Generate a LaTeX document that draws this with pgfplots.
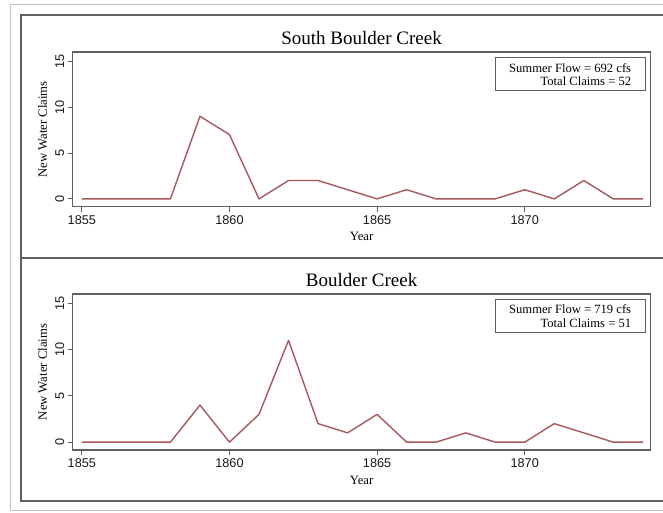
\documentclass[border=0pt]{standalone}
\usepackage{fontspec}
\setmainfont{Liberation Serif}
\setsansfont{Liberation Sans}
\usepackage{pgfplots}
\pgfplotsset{compat=1.18}
\definecolor{linec}{RGB}{168,88,92}
\definecolor{framec}{RGB}{95,95,95}
\definecolor{outerc}{RGB}{195,195,195}

\pgfplotsset{
  panel/.style={
    scale only axis, width=577.8pt,
    xmin=1854.69, xmax=1874.26, ymin=-0.85, ymax=16,
    xtick={1855,1860,1865,1870}, ytick={0,5,10,15},
    tick pos=left, tick align=outside, major tick length=5pt,
    axis line style={framec, line width=1.3pt},
    tick style={framec, line width=0.9pt},
    ticklabel style={font=\fontsize{12.7}{14}\sffamily, text=black!90},
    /pgf/number format/assume math mode=true,
    /pgf/number format/1000 sep={},
    yticklabel style={rotate=90, anchor=south},
    xlabel={Year},
    ylabel={New Water Claims},
    xlabel style={font=\fontsize{12.7}{14}\selectfont, anchor=base},
    ylabel style={font=\fontsize{12.7}{14}\selectfont, at={(axis description cs:-0.0445,0.5)}, anchor=base},
    title style={font=\fontsize{19}{21}\selectfont, at={(axis description cs:0.5,1)}, anchor=base, yshift=1pt},
  },
}
\tikzset{
  legbox/.style={draw=framec, line width=1pt, fill=white, anchor=north east, align=right,
    inner xsep=14pt, inner ysep=5.5pt, font=\fontsize{12.6}{13.2}\selectfont},
}

\begin{document}
\begin{tikzpicture}[x=1pt,y=1pt]
\useasboundingbox (0,0) rectangle (663,512);
\clip (0,0) rectangle (663,512);
\fill[white] (0,0) rectangle (663,512);
\draw[outerc, line width=1pt] (10,2) rectangle (700,507);
\draw[framec, line width=1.2pt] (21,11) rectangle (700,497);
\draw[framec, line width=1.2pt] (21,254) -- (700,254);

\begin{axis}[panel, height=154.7pt, at={(72.7pt,305.3pt)}, anchor=south west,
  title={South Boulder Creek},
  xlabel style={at={(axis description cs:0.5,-0.22)}}]
\addplot[linec, line width=1.4pt, line join=round] coordinates {
(1855,0) (1856,0) (1857,0) (1858,0) (1859,9) (1860,7) (1861,0) (1862,2)
(1863,2) (1864,1) (1865,0) (1866,1) (1867,0) (1868,0) (1869,0) (1870,1)
(1871,0) (1872,2) (1873,0) (1874,0)};
\node[legbox] at (rel axis cs:0.9915,0.9657) {Summer Flow = 692 cfs\\Total Claims = 52};
\end{axis}

\begin{axis}[panel, height=156pt, at={(72.7pt,62pt)}, anchor=south west,
  title={Boulder Creek},
  xlabel style={at={(axis description cs:0.5,-0.218)}}]
\addplot[linec, line width=1.4pt, line join=round] coordinates {
(1855,0) (1856,0) (1857,0) (1858,0) (1859,4) (1860,0) (1861,3) (1862,11)
(1863,2) (1864,1) (1865,3) (1866,0) (1867,0) (1868,1) (1869,0) (1870,0)
(1871,2) (1872,1) (1873,0) (1874,0)};
\node[legbox] at (rel axis cs:0.9915,0.968) {Summer Flow = 719 cfs\\Total Claims = 51};
\end{axis}
\end{tikzpicture}
\end{document}
